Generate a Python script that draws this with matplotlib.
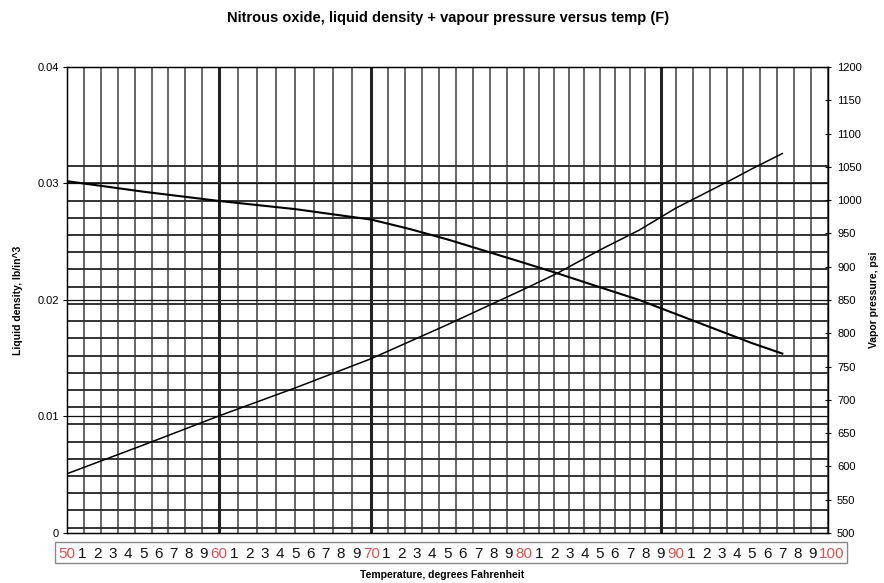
import numpy as np
import matplotlib
matplotlib.use('Agg')
import matplotlib.pyplot as plt
from matplotlib.patches import Rectangle
from matplotlib.transforms import ScaledTranslation

# ---- data ----
temp_f = [50, 55, 60, 65, 70, 72.5, 75, 80, 82.2, 85, 87.6, 90, 93.6, 95, 97]
density_lb_in3 = [0.0302, 0.0293, 0.0285, 0.0278, 0.0269, 0.0261, 0.0252, 0.0232,
                  0.0223, 0.0211, 0.0200, 0.0188, 0.0170, 0.0163, 0.0154]
vapor_temp_f = [50, 55, 60, 65, 70, 75, 80, 82.2, 85, 87.6, 90, 93.6, 95, 97]
vapor_psi = [589, 632, 676, 718, 762, 813, 866, 890, 925, 955, 988, 1030, 1047, 1070]

x_ticks = list(range(50, 101))
x_tick_labels = [str(t) if t % 10 == 0 else str(t % 10) for t in x_ticks]
left_ticks = [0, 0.01, 0.02, 0.03, 0.04]
left_tick_labels = ['0', '0.01', '0.02', '0.03', '0.04']
right_ticks = list(range(500, 1201, 50))

title = 'Nitrous oxide, liquid density + vapour pressure versus temp (F)'
xlabel = 'Temperature, degrees Fahrenheit'
ylabel_left = 'Liquid density, lb/in^3'
ylabel_right = 'Vapor pressure, psi'

# ---- layout ----
plt.rcParams['font.family'] = ['Liberation Sans', 'DejaVu Sans']
W, H = 884, 583
fig = plt.figure(figsize=(W / 100, H / 100), dpi=100)
L, R, B, T = 67, 828, 533, 67
ax = fig.add_axes([L / W, 1 - B / H, (R - L) / W, (B - T) / H])
ax.set_xlim(50, 100)
ax.set_ylim(0, 0.04)
ax2 = ax.twinx()
ax2.set_ylim(500, 1200)
ax2.patch.set_visible(False)

gcol = '#666666'
# vertical paper grid (uneven spacing per decade as on the scanned sheet)
decade_counts = [9, 8, 9, 10, 9]
vx = []
for i, n in enumerate(decade_counts):
    start = 50 + 10 * i
    vx.extend(np.linspace(start, start + 10, n + 1)[:-1])
vx.append(100)
for x in vx:
    ax.axvline(x, color=gcol, lw=1.4, zorder=1)
for x in [60, 70, 89]:
    ax.axvline(x, color='#222222', lw=2.2, zorder=1.5)

# horizontal paper grid (in psi, converted to the left axis)
def psi_to_den(p):
    return (p - 500) / 700 * 0.04

for p in np.linspace(508, 1051, 22):
    ax.axhline(psi_to_den(p), color='#333333', lw=1.4, zorder=1)
for d in [0.01, 0.02, 0.03]:
    ax.axhline(d, color='#111111', lw=0.9, zorder=1.2)

# curves
ax.plot(temp_f, density_lb_in3, color='black', lw=1.5, zorder=3)
ax2.plot(vapor_temp_f, vapor_psi, color='black', lw=1.1, zorder=3)

# ticks
ax.set_yticks(left_ticks)
ax.set_yticklabels(left_tick_labels, fontsize=8)
ax.tick_params(axis='y', length=3, width=0.8, pad=3)
ax2.set_yticks(right_ticks)
ax2.set_yticklabels([str(v) for v in right_ticks], fontsize=8)
ax2.tick_params(axis='y', direction='inout', length=5, width=0.8, pad=4)

ax.set_xticks(x_ticks)
ax.set_xticklabels(x_tick_labels, fontsize=11)
ax.tick_params(axis='x', length=0, pad=10)
for lab, t in zip(ax.get_xticklabels(), x_ticks):
    lab.set_color('#d9534f' if t % 10 == 0 else '#111111')
    if t == 100:
        lab.set_transform(lab.get_transform() +
                          ScaledTranslation(4 / 100, 0, fig.dpi_scale_trans))

for a in (ax, ax2):
    for s in a.spines.values():
        s.set_linewidth(0.9)
        s.set_color('black')

# label box around the temperature scale
fig.patches.append(Rectangle((55 / W, 1 - 563 / H), (847 - 55) / W, 21 / H,
                             transform=fig.transFigure, fill=False,
                             edgecolor='#888888', lw=1.0))

# texts
fig.text(448 / W, 1 - 18 / H, title, ha='center', va='center',
         fontsize=10.5, fontweight='bold')
fig.text(442 / W, 1 - 575 / H, xlabel, ha='center', va='center',
         fontsize=7.5, fontweight='bold')
fig.text(18 / W, 1 - 300 / H, ylabel_left, ha='center', va='center',
         rotation=90, fontsize=7.5, fontweight='bold')
fig.text(874 / W, 1 - 300 / H, ylabel_right, ha='center', va='center',
         rotation=90, fontsize=7.5, fontweight='bold')

fig.savefig('out.png', dpi=100)
